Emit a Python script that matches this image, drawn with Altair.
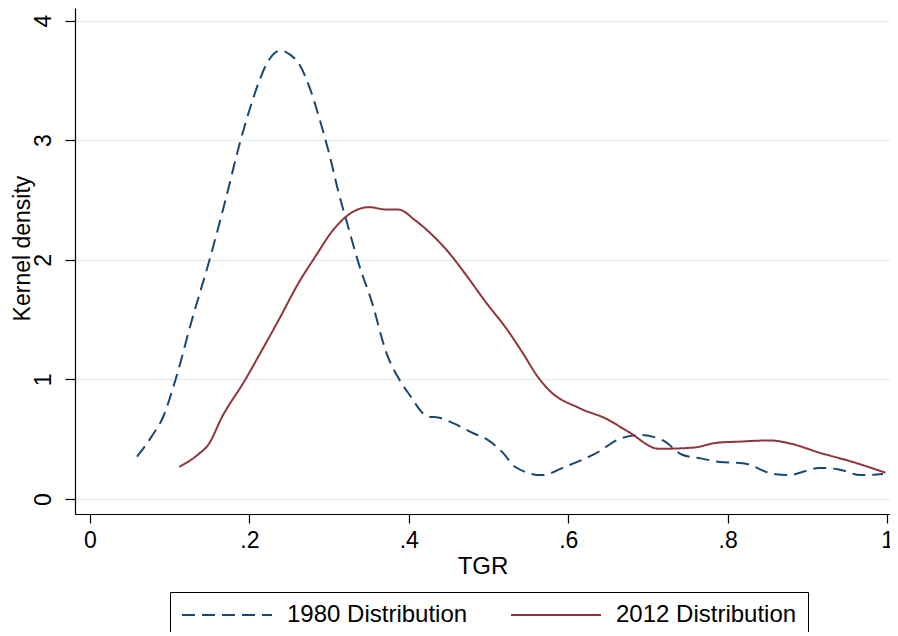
import altair as alt
import pandas as pd

x1980 = [0.059, 0.077, 0.092, 0.1074, 0.128, 0.150, 0.170, 0.189, 0.200, 0.211, 0.221,
         0.239, 0.250, 0.262, 0.275, 0.287, 0.300, 0.312, 0.325, 0.337, 0.354, 0.372, 0.388, 0.400,
         0.424, 0.438, 0.457, 0.481, 0.500, 0.519, 0.533, 0.567, 0.596, 0.634, 0.667, 0.690, 0.719,
         0.743, 0.766, 0.790, 0.819, 0.857, 0.876, 0.915, 0.938, 0.967, 0.995]
y1980 = [0.354, 0.52, 0.69, 1.00, 1.50, 2.00, 2.50, 3.00, 3.25, 3.47, 3.63,
         3.75, 3.72, 3.64, 3.45, 3.20, 2.89, 2.56, 2.25, 1.97, 1.64, 1.22, 1.00, 0.88,
         0.69, 0.68, 0.63, 0.55, 0.49, 0.38, 0.27, 0.20, 0.27, 0.38, 0.51, 0.535, 0.49,
         0.37, 0.34, 0.31, 0.30, 0.21, 0.20, 0.26, 0.25, 0.20, 0.21]

x2012 = [0.112, 0.125, 0.137, 0.148, 0.166, 0.195, 0.212, 0.237, 0.262, 0.283, 0.304, 0.325, 0.350,
         0.372, 0.387, 0.408, 0.429, 0.449, 0.470, 0.495, 0.524, 0.543, 0.562, 0.576, 0.614, 0.648,
         0.676, 0.714, 0.757, 0.786, 0.814, 0.853, 0.881, 0.914, 0.957, 0.998]
y2012 = [0.27, 0.32, 0.38, 0.45, 0.69, 1.00, 1.20, 1.50, 1.81, 2.03, 2.24, 2.38, 2.44,
         2.42, 2.42, 2.33, 2.21, 2.07, 1.89, 1.66, 1.41, 1.22, 1.02, 0.91, 0.76, 0.67,
         0.56, 0.42, 0.43, 0.47, 0.48, 0.49, 0.46, 0.39, 0.31, 0.22]

series = ["1980 Distribution", "2012 Distribution"]
colors = ["#1a476f", "#90353b"]

df = pd.concat([
    pd.DataFrame({"TGR": x1980, "density": y1980, "series": series[0]}),
    pd.DataFrame({"TGR": x2012, "density": y2012, "series": series[1]}),
])

FONT = "Liberation Sans"

chart = alt.Chart(df).mark_line(strokeWidth=2, interpolate="monotone").encode(
    x=alt.X("TGR:Q", title="TGR",
            scale=alt.Scale(domain=[-0.0188, 1.0037], nice=False, zero=False),
            axis=alt.Axis(values=[0, 0.2, 0.4, 0.6, 0.8, 1.0],
                          labelExpr="datum.value == 0 ? '0' : datum.value == 1 ? '1' : replace(format(datum.value, '.1f'), '0.', '.')",
                          grid=False, tickSize=9, labelPadding=6, titlePadding=2)),
    y=alt.Y("density:Q", title="Kernel density",
            scale=alt.Scale(domain=[-0.125, 4.105], nice=False, zero=False),
            axis=alt.Axis(values=[0, 1, 2, 3, 4], format="d", labelAngle=270,
                          grid=True, tickSize=10, labelPadding=10,
                          titleX=-53, titleY=240, titleAngle=270, titleFontSize=23,
                          titleAlign="center", titleBaseline="middle")),
    color=alt.Color("series:N", scale=alt.Scale(domain=series, range=colors),
                    legend=alt.Legend(title=None)),
    strokeDash=alt.StrokeDash("series:N", scale=alt.Scale(domain=series, range=[[13, 7], [1, 0]]),
                              legend=alt.Legend(title=None)),
).properties(
    width=815, height=506,
    autosize=alt.AutoSizeParams(type="none"),
    padding={"left": 67, "top": 0, "right": 0, "bottom": 118},
).configure_view(stroke=None).configure_axis(
    domainColor="black", domainWidth=1.2, tickColor="black", tickWidth=1.2,
    labelFont=FONT, titleFont=FONT, labelFontSize=23, titleFontSize=24,
    labelColor="black", titleColor="black", titleFontWeight="normal",
    gridColor="#e6eef1", gridWidth=1.5,
).configure_legend(
    orient="none", legendX=95, legendY=584, direction="horizontal",
    strokeColor="black", fillColor="white", padding=11,
    labelFont=FONT, labelFontSize=24, labelColor="black", labelLimit=400,
    symbolType="M-4.5,0H4.5", symbolSize=400, symbolOffset=34, labelOffset=48,
    symbolStrokeWidth=2, columnPadding=39,
)

chart.save("out.html", embed_options={"renderer": "svg", "actions": False})
